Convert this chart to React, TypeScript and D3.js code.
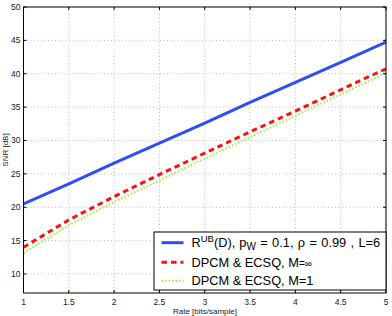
import React from "react";
import * as d3 from "d3";

// rate axis samples [bits/sample]
const rates = [1, 1.5, 2, 2.5, 3, 3.5, 4, 4.5, 5];
// SNR [dB]
const upperBound = [20.5, 23.5, 26.6, 29.6, 32.6, 35.7, 38.7, 41.7, 44.75];
const dpcmInf = [14.0, 18.1, 21.6, 24.9, 28.1, 31.3, 34.4, 37.6, 40.75];
const dpcmOne = [13.15, 17.3, 20.8, 24.0, 27.3, 30.5, 33.7, 36.9, 40.1];

const xTicks = [1, 1.5, 2, 2.5, 3, 3.5, 4, 4.5, 5];
const yTicks = [10, 15, 20, 25, 30, 35, 40, 45, 50];

const width = 392;
const height = 316;
const left = 23.5;
const right = 386;
const top = 7;
const bottom = 293;

const App = () => {
  const x = d3.scaleLinear().domain([1, 5]).range([left, right]);
  const y = d3.scaleLinear().domain([7.15, 50]).range([bottom, top]);

  const line = d3
    .line<number>()
    .x((_, i) => x(rates[i]))
    .y((d) => y(d));

  const series = [
    { values: dpcmOne, color: "#99f03c", width: 2, dash: "1.5,2" },
    { values: dpcmInf, color: "#ff1010", width: 3, dash: "5.5,4" },
    { values: upperBound, color: "#2f4ef5", width: 3, dash: null },
  ];

  const tickFont = { fontFamily: "Liberation Sans, Arial, sans-serif", fontSize: 8.5, fill: "#222" };
  const legFont = { fontFamily: "Liberation Sans, Arial, sans-serif", fontSize: 12.8, fill: "#000" };

  const lx = 154;
  const ly = 232;
  const lw = 232;
  const lh = 58;
  const rows = [242.7, 262.3, 280.7];

  return (
    <svg width={width} height={height} style={{ position: "absolute", left: 0, top: 0 }}>
      <rect x={0} y={0} width={width} height={height} fill="#fff" />
      <g>
        {xTicks.map((t) => (
          <line key={"gx" + t} x1={x(t)} x2={x(t)} y1={top} y2={bottom} stroke="#aaa" strokeWidth={0.8} strokeDasharray="1,2.5" />
        ))}
        {yTicks.map((t) => (
          <line key={"gy" + t} x1={left} x2={right} y1={y(t)} y2={y(t)} stroke="#aaa" strokeWidth={0.8} strokeDasharray="1,2.5" />
        ))}
      </g>
      <defs>
        <clipPath id="plotClip">
          <rect x={left} y={top} width={right - left} height={bottom - top} />
        </clipPath>
      </defs>
      <g clipPath="url(#plotClip)">
        {series.map((s, i) => (
          <path
            key={i}
            d={line(s.values) || ""}
            fill="none"
            stroke={s.color}
            strokeWidth={s.width}
            strokeDasharray={s.dash || undefined}
          />
        ))}
      </g>
      <rect x={left} y={top} width={right - left} height={bottom - top} fill="none" stroke="#000" strokeWidth={1} />
      {xTicks.map((t) => (
        <g key={"tx" + t}>
          <line x1={x(t)} x2={x(t)} y1={bottom} y2={bottom - 3} stroke="#000" />
          <line x1={x(t)} x2={x(t)} y1={top} y2={top + 3} stroke="#000" />
          <text x={x(t)} y={305} textAnchor="middle" style={tickFont}>
            {t}
          </text>
        </g>
      ))}
      {yTicks.map((t) => (
        <g key={"ty" + t}>
          <line x1={left} x2={left + 3} y1={y(t)} y2={y(t)} stroke="#000" />
          <line x1={right} x2={right - 3} y1={y(t)} y2={y(t)} stroke="#000" />
          <text x={20.5} y={y(t) + 3} textAnchor="end" style={tickFont}>
            {t}
          </text>
        </g>
      ))}
      <text x={205} y={313.5} textAnchor="middle" style={{ ...tickFont, fontSize: 8 }}>
        Rate [bits/sample]
      </text>
      <text transform="translate(7.5,150) rotate(-90)" textAnchor="middle" style={{ ...tickFont, fontSize: 8 }}>
        SNR [dB]
      </text>

      <rect x={lx} y={ly} width={lw} height={lh} fill="#fff" stroke="#000" strokeWidth={1} />
      {series
        .slice()
        .reverse()
        .map((s, i) => (
          <line
            key={"lg" + i}
            x1={161.5}
            x2={183.5}
            y1={rows[i]}
            y2={rows[i]}
            stroke={s.color}
            strokeWidth={s.width}
            strokeDasharray={s.dash || undefined}
          />
        ))}
      <text x={191.5} y={rows[0] + 4.5} style={legFont}>
        R<tspan dy={-5} fontSize={9.5}>UB</tspan>
        <tspan dy={5}>(D),</tspan>
        <tspan dx={0.5}>{" p"}</tspan>
        <tspan dy={3} fontSize={10}>W</tspan>
        <tspan dy={-3} dx={0.8}>{" ="}</tspan>
        <tspan dx={0.8}>{" 0.1,"}</tspan>
        <tspan dx={0.8}>{" ρ"}</tspan>
        <tspan dx={0.8}>{" ="}</tspan>
        <tspan dx={0.8}>{" 0.99"}</tspan>
        <tspan dx={0.8}>{" ,"}</tspan>
        <tspan dx={0.8}>{" L=6"}</tspan>
      </text>
      <text x={191.5} y={rows[1] + 4.5} style={legFont}>
        DPCM &amp; ECSQ, M<tspan fontSize={10}>=∞</tspan>
      </text>
      <text x={191.5} y={rows[2] + 4.5} style={legFont}>
        DPCM &amp; ECSQ, M=1
      </text>
    </svg>
  );
};

export default App;
